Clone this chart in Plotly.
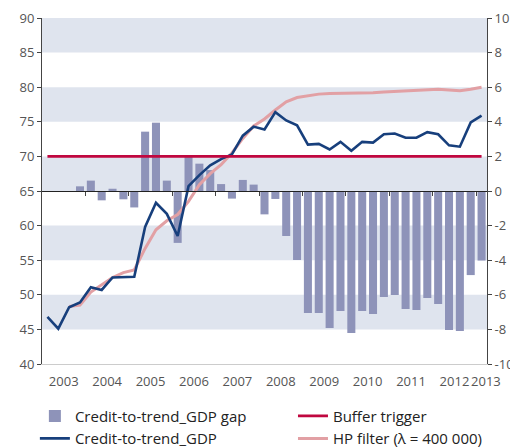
"""
Credit-to-trend GDP, its HP-filter trend and the gap, with the buffer trigger.
"""

import plotly.graph_objects as go

# Quarterly observations, 2003 Q1 - 2013 Q1
QUARTERS = [f"{y} Q{q}" for y in range(2003, 2014) for q in range(1, 5)][:41]

CREDIT_TO_GDP = [
    46.8, 45.1, 48.2, 48.9, 51.1, 50.7, 52.5, 52.6, 52.6, 59.8, 63.3,
    61.7, 58.5, 65.7, 67.3, 68.7, 69.6, 70.3, 73.0, 74.3, 73.9, 76.4,
    75.2, 74.5, 71.7, 71.8, 71.0, 72.1, 70.8, 72.1, 72.0, 73.2, 73.3,
    72.7, 72.7, 73.5, 73.2, 71.6, 71.4, 74.9, 75.9,
]

HP_TREND = [
    None, None, 48.3, 48.5, 50.4, 51.4, 52.5, 53.2, 53.6, 56.7, 59.4,
    60.7, 61.6, 63.5, 65.9, 67.5, 68.8, 70.5, 72.6, 74.4, 75.4, 76.7,
    77.9, 78.5, 78.8, 79.0, 79.1, 79.1, 79.2, 79.2, 79.2, 79.3, 79.4,
    79.5, 79.5, 79.6, 79.7, 79.6, 79.5, 79.7, 80.0,
]

GAP = [
    None, None, 0.0, 0.27, 0.60, -0.54, 0.13, -0.48, -0.95, 3.43, 3.95,
    0.60, -3.00, 2.08, 1.58, 1.21, 0.40, -0.44, 0.64, 0.37, -1.35, -0.46,
    -2.60, -3.99, -7.05, -7.05, -7.92, -6.94, -8.21, -6.94, -7.11, -6.13, -6.01,
    -6.82, -6.88, -6.18, -6.53, -8.03, -8.09, -4.86, -4.02,
]

BUFFER_TRIGGER = [70] * len(QUARTERS)

YEARS = ["2003", "2004", "2005", "2006", "2007", "2008",
         "2009", "2010", "2011", "2012", "2013"]

LEFT_TICKS = [40, 45, 50, 55, 60, 65, 70, 75, 80, 85, 90]
RIGHT_TICKS = [-10, -8, -6, -4, -2, 0, 2, 4, 6, 8, 10]

COLORS = {
    'gap': '#8e93b9',
    'credit': '#173f7c',
    'trigger': '#c0073f',
    'hp': '#e2a0a4',
    'band': '#dfe4ee',
    'text': '#555555',
    'axis': '#444444',
}
FONT = 'Open Sans'


def build_figure():
    x = list(range(len(QUARTERS)))
    fig = go.Figure()

    fig.add_trace(go.Bar(
        x=x, y=GAP, name='Credit-to-trend_GDP gap', hovertext=QUARTERS,
        marker=dict(color=COLORS['gap'], line_width=0),
        yaxis='y', legend='legend', legendrank=1,
    ))
    fig.add_trace(go.Scatter(
        x=x, y=HP_TREND, name='HP filter (λ = 400 000)', mode='lines',
        line=dict(color=COLORS['hp'], width=3), yaxis='y2',
        legend='legend2', legendrank=2,
    ))
    fig.add_trace(go.Scatter(
        x=x, y=CREDIT_TO_GDP, name='Credit-to-trend_GDP', mode='lines',
        line=dict(color=COLORS['credit'], width=2.6), yaxis='y2',
        legend='legend', legendrank=2,
    ))
    fig.add_trace(go.Scatter(
        x=x, y=BUFFER_TRIGGER, name='Buffer trigger', mode='lines',
        line=dict(color=COLORS['trigger'], width=2.6), xaxis='x2', yaxis='y2',
        legend='legend2', legendrank=1,
    ))

    # alternating background bands on the left scale
    for lo in range(45, 90, 10):
        fig.add_shape(type='rect', xref='paper', yref='y2', x0=0, x1=1,
                      y0=lo, y1=lo + 5, fillcolor=COLORS['band'],
                      line_width=0, layer='below')

    xr = [-0.5, len(QUARTERS) - 0.5]
    year_pos = [4 * i + 1.5 for i in range(len(YEARS))]
    year_pos[-1] = len(QUARTERS) - 0.6

    tick_font = dict(family=FONT, size=13, color=COLORS['text'])
    legend_style = dict(orientation='v', yanchor='top', xanchor='left',
                        y=-0.103, traceorder='normal', tracegroupgap=0,
                        font=dict(family=FONT, size=15, color='#222222'),
                        bgcolor='rgba(0,0,0,0)')
    # the page body adds 8px, so the figure is 8px smaller than the window
    fig.update_layout(
        width=510, height=440,
        margin=dict(l=34, r=31, t=10, b=84, autoexpand=False),
        paper_bgcolor='white', plot_bgcolor='white',
        font=dict(family=FONT, color='#222222'),
        bargap=0.26,
        showlegend=True,
        legend=dict(x=-0.016, **legend_style),
        legend2=dict(x=0.564, **legend_style),
        xaxis=dict(range=xr, tickvals=year_pos, ticktext=YEARS, ticks='',
                   tickangle=0, ticklabelstandoff=5, showgrid=False,
                   zeroline=False, showline=True, linecolor='#cccccc',
                   linewidth=1, tickfont=tick_font, automargin=False),
        xaxis2=dict(range=xr, overlaying='x', anchor='free', position=0.5,
                    tickvals=[4 * i - 0.5 for i in range(1, len(YEARS))],
                    ticks='outside', ticklen=4, tickcolor=COLORS['axis'],
                    showticklabels=False, showgrid=False, zeroline=False,
                    showline=True, linecolor='#222222', linewidth=1),
        yaxis=dict(range=[-10, 10], side='right', tickvals=RIGHT_TICKS,
                   ticktext=[str(v) for v in RIGHT_TICKS], ticks='outside',
                   ticklen=4, tickcolor=COLORS['axis'], showline=True,
                   linecolor=COLORS['axis'], showgrid=False, zeroline=False,
                   tickfont=tick_font, automargin=False),
        yaxis2=dict(range=[40, 90], side='left', overlaying='y',
                    tickvals=LEFT_TICKS, ticks='outside', ticklen=4,
                    tickcolor=COLORS['axis'], showline=True,
                    linecolor=COLORS['axis'], showgrid=False, zeroline=False,
                    tickfont=tick_font, automargin=False),
    )
    return fig


fig = build_figure()
fig.write_html("out.html")
